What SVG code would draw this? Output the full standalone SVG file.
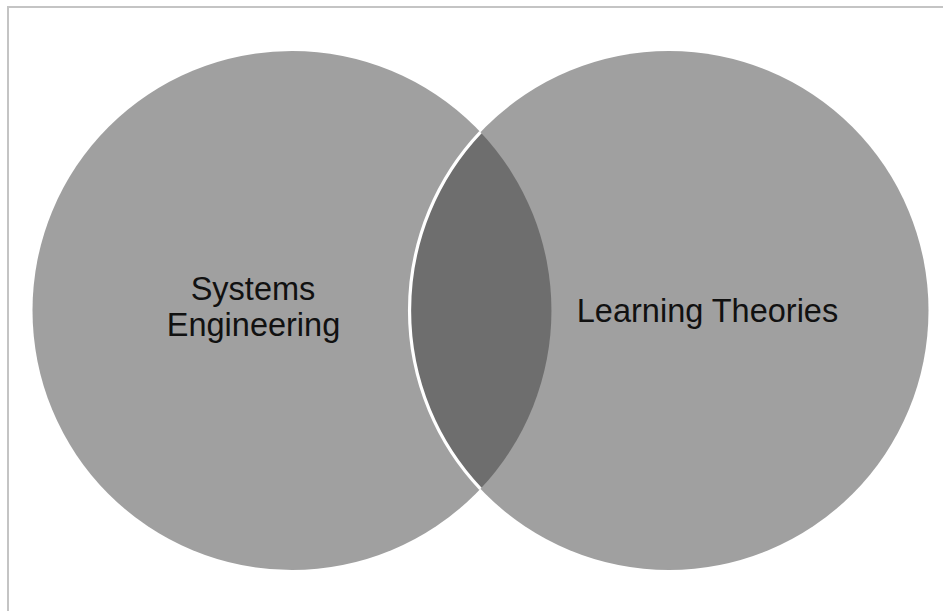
<svg xmlns="http://www.w3.org/2000/svg" width="943" height="611" viewBox="0 0 943 611">
<style>
.circ{fill:#a0a0a0}
.lens{fill:#6e6e6e}
.lbl{font-family:"Liberation Sans",Arial,sans-serif;font-size:32.5px;fill:#111;text-anchor:middle}
.frame{stroke:#c4c4c4;stroke-width:2;fill:none}
</style>
<rect width="943" height="611" fill="#fff"/>
<path class="frame" d="M8 611 V7 H943"/>
<g id="node-systems-engineering">
<circle class="circ" cx="292" cy="310.5" r="259.5"/>
</g>
<g id="node-learning-theories">
<circle class="circ" cx="669" cy="310.5" r="259.5"/>
</g>
<g id="node-overlap">
<path class="lens" d="M480.5 132.2 A259.5 259.5 0 0 1 480.5 488.8 A259.5 259.5 0 0 1 480.5 132.2 Z"/>
<path d="M480.5 132.2 A259.5 259.5 0 0 0 480.5 488.8" fill="none" stroke="#fff" stroke-width="3.2"/>
</g>
<g id="labels">
<text class="lbl" x="253" y="300">Systems</text>
<text class="lbl" x="253.5" y="336">Engineering</text>
<text class="lbl" x="707.5" y="322">Learning Theories</text>
</g>
<g id="connectors"/>
</svg>
